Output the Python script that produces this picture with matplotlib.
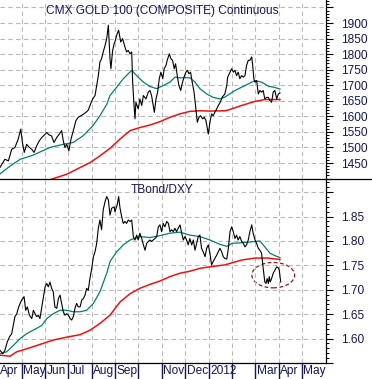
import numpy as np
import matplotlib
matplotlib.use("Agg")
import matplotlib.pyplot as plt
import matplotlib.transforms as mtransforms
from matplotlib.patches import Ellipse
from matplotlib.lines import Line2D
from matplotlib.ticker import MultipleLocator

plt.rcParams['font.family'] = ['Liberation Sans', 'DejaVu Sans']

# time axis: months since 1 Apr 2011
month_pos = list(range(14))
month_labels = ['Apr', 'May', 'Jun', 'Jul', 'Aug', 'Sep', '', 'Nov', 'Dec',
                '2012', '', 'Mar', 'Apr', 'May']

# CMX gold, daily close (sampled)
gold_t = [0.07, 0.28, 0.43, 0.57, 0.71, 0.79, 0.85, 0.96, 1.03, 1.11, 1.21, 1.33,
          1.43, 1.53, 1.64, 1.75, 1.86, 1.97, 2.07, 2.18, 2.28, 2.38, 2.50, 2.61,
          2.71, 2.78, 2.85, 2.93, 3.02, 3.11, 3.21, 3.32, 3.42, 3.54, 3.64, 3.75,
          3.85, 3.95, 4.04, 4.14, 4.21, 4.28, 4.35, 4.42, 4.49, 4.57, 4.64, 4.71,
          4.78, 4.82, 4.89, 4.96, 4.99, 5.09, 5.15, 5.24, 5.32, 5.42, 5.49, 5.56,
          5.64, 5.71, 5.75, 5.81, 5.85, 5.89, 5.99, 6.06, 6.14, 6.21, 6.32, 6.42,
          6.49, 6.56, 6.63, 6.68, 6.75, 6.82, 6.89, 6.96, 7.04, 7.10, 7.18, 7.23,
          7.32, 7.39, 7.46, 7.53, 7.59, 7.66, 7.73, 7.81, 7.87, 7.95, 8.03, 8.09,
          8.16, 8.23, 8.30, 8.38, 8.45, 8.52, 8.59, 8.66, 8.75, 8.82, 8.89, 8.95,
          8.99, 9.06, 9.13, 9.20, 9.27, 9.35, 9.42, 9.50, 9.59, 9.70, 9.78, 9.82,
          9.89, 9.99, 10.06, 10.13, 10.20, 10.27, 10.34, 10.42, 10.49, 10.56, 10.63,
          10.70, 10.77, 10.85, 10.89, 10.94, 10.99, 11.06, 11.13, 11.20, 11.27,
          11.34, 11.41, 11.49, 11.56, 11.63, 11.70, 11.77, 11.84, 11.92, 11.99, 12.06]
gold = [1436, 1462, 1457, 1494, 1500, 1516, 1527, 1559, 1516, 1484, 1510, 1500,
        1494, 1484, 1505, 1521, 1532, 1540, 1548, 1540, 1537, 1516, 1532, 1543,
        1554, 1521, 1500, 1510, 1489, 1527, 1554, 1586, 1597, 1602, 1607, 1613,
        1620, 1640, 1656, 1667, 1699, 1731, 1775, 1785, 1807, 1828, 1850, 1893,
        1785, 1753, 1810, 1834, 1839, 1866, 1877, 1839, 1850, 1823, 1807, 1812,
        1801, 1807, 1710, 1635, 1592, 1645, 1624, 1656, 1635, 1667, 1656, 1678,
        1683, 1667, 1635, 1613, 1656, 1678, 1721, 1742, 1721, 1753, 1764, 1780,
        1801, 1785, 1780, 1753, 1769, 1731, 1699, 1683, 1705, 1726, 1742, 1748,
        1737, 1742, 1710, 1678, 1629, 1581, 1597, 1602, 1592, 1597, 1586, 1559,
        1543, 1581, 1608, 1602, 1613, 1624, 1635, 1645, 1662, 1672, 1699, 1726,
        1737, 1753, 1742, 1748, 1731, 1742, 1721, 1731, 1726, 1731, 1764,
        1780, 1780, 1791, 1764, 1721, 1710, 1715, 1672, 1683, 1678,
        1683, 1656, 1661, 1661, 1651, 1645, 1678, 1683, 1656, 1672, 1675]

gold_ma50_t = [0.07, 0.50, 0.93, 1.48, 2.21, 2.77, 3.20, 3.62, 4.05, 4.35, 4.65,
               4.78, 5.07, 5.35, 5.71, 5.92, 6.21, 6.49, 6.78, 7.06, 7.35, 7.56,
               7.78, 8.20, 8.42, 8.63, 8.92, 9.20, 9.49, 9.70, 10.13, 10.56, 10.99,
               11.27, 11.56, 11.77, 12.06]
gold_ma50 = [1415, 1440, 1462, 1475, 1500, 1510, 1516, 1537, 1570, 1602, 1640,
             1667, 1694, 1721, 1748, 1731, 1710, 1696, 1689, 1699, 1710, 1726,
             1724, 1724, 1710, 1689, 1672, 1661, 1656, 1662, 1683, 1699, 1715,
             1710, 1697, 1694, 1688]

gold_ma200_t = [2.20, 2.93, 3.49, 3.92, 4.35, 4.78, 5.21, 5.64, 6.06, 6.49, 6.92,
                7.35, 7.78, 8.20, 8.63, 9.06, 9.70, 9.83, 10.42, 10.99, 11.41, 12.06]
gold_ma200 = [1396, 1414, 1435, 1451, 1473, 1497, 1527, 1554, 1564, 1572, 1583,
              1597, 1608, 1616, 1618, 1617, 1618, 1620, 1635, 1648, 1654, 1654]

# TBond / DXY ratio
ratio_t = [0.07, 0.19, 0.28, 0.38, 0.47, 0.57, 0.64, 0.71, 0.79, 0.85, 0.93, 1.00,
           1.10, 1.17, 1.24, 1.33, 1.43, 1.50, 1.57, 1.64, 1.71, 1.78, 1.86, 1.92,
           2.00, 2.07, 2.14, 2.21, 2.28, 2.35, 2.42, 2.50, 2.57, 2.64, 2.71, 2.78,
           2.85, 2.93, 3.00, 3.07, 3.14, 3.21, 3.28, 3.35, 3.42, 3.50, 3.57, 3.64,
           3.71, 3.78, 3.85, 3.92, 4.00, 4.07, 4.14, 4.21, 4.28, 4.35, 4.42, 4.49,
           4.57, 4.64, 4.71, 4.78, 4.85, 4.96, 4.99, 5.09, 5.15, 5.21, 5.28, 5.35,
           5.42, 5.49, 5.56, 5.64, 5.71, 5.78, 5.85, 5.92, 5.99, 6.06, 6.14, 6.21,
           6.28, 6.35, 6.42, 6.49, 6.56, 6.63, 6.71, 6.78, 6.85, 6.92, 6.99, 7.06,
           7.13, 7.21, 7.28, 7.35, 7.42, 7.49, 7.56, 7.63, 7.70, 7.78, 7.85, 7.92,
           7.99, 8.06, 8.13, 8.20, 8.28, 8.35, 8.42, 8.49, 8.56, 8.63, 8.70, 8.77,
           8.85, 8.92, 8.99, 9.06, 9.13, 9.20, 9.27, 9.35, 9.42, 9.49, 9.56, 9.63,
           9.70, 9.78, 9.85, 9.92, 9.99, 10.06, 10.13, 10.20, 10.27, 10.34, 10.42,
           10.49, 10.56, 10.63, 10.70, 10.77, 10.85, 10.91, 10.99, 11.06, 11.13,
           11.20, 11.27, 11.34, 11.41, 11.46, 11.51, 11.56, 11.60, 11.64, 11.70,
           11.77, 11.84, 11.92, 11.99, 12.03, 12.09]
ratio = [1.576, 1.569, 1.576, 1.593, 1.603, 1.610, 1.627, 1.645, 1.651, 1.662, 1.672, 1.679,
         1.686, 1.658, 1.665, 1.648, 1.641, 1.658, 1.651, 1.645, 1.648, 1.641, 1.665, 1.682,
         1.706, 1.713, 1.706, 1.716, 1.703, 1.696, 1.665, 1.662, 1.682, 1.689, 1.672, 1.655,
         1.648, 1.651, 1.648, 1.641, 1.638, 1.645, 1.662, 1.672, 1.665, 1.665, 1.679, 1.682,
         1.689, 1.703, 1.699, 1.723, 1.744, 1.768, 1.778, 1.795, 1.826, 1.843, 1.823, 1.864,
         1.881, 1.891, 1.884, 1.853, 1.867, 1.870, 1.860, 1.874, 1.891, 1.867, 1.850, 1.836,
         1.840, 1.836, 1.843, 1.840, 1.843, 1.809, 1.802, 1.812, 1.802, 1.816, 1.805, 1.792,
         1.781, 1.795, 1.799, 1.802, 1.799, 1.802, 1.805, 1.809, 1.829, 1.833, 1.819, 1.836,
         1.829, 1.840, 1.836, 1.819, 1.823, 1.819, 1.826, 1.819, 1.826, 1.833, 1.816, 1.802,
         1.809, 1.802, 1.792, 1.805, 1.792, 1.802, 1.781, 1.795, 1.809, 1.812, 1.785, 1.778,
         1.768, 1.785, 1.792, 1.775, 1.751, 1.758, 1.764, 1.771, 1.778, 1.785, 1.778, 1.768,
         1.764, 1.763, 1.785, 1.819, 1.829, 1.819, 1.805, 1.812, 1.802, 1.809, 1.799,
         1.795, 1.788, 1.792, 1.802, 1.819, 1.833, 1.816, 1.802, 1.795, 1.785,
         1.781, 1.775, 1.744, 1.716, 1.713, 1.723, 1.713, 1.727, 1.716, 1.723,
         1.734, 1.740, 1.747, 1.745, 1.740, 1.716]

ratio_ma50_t = [0.07, 0.36, 0.64, 0.93, 1.21, 1.64, 1.86, 2.07, 2.35, 2.64, 2.93,
                3.21, 3.50, 3.78, 4.07, 4.35, 4.64, 4.78, 5.07, 5.35, 5.64, 6.06,
                6.49, 6.92, 7.35, 7.78, 8.20, 8.63, 9.06, 9.49, 9.79, 10.00, 10.56,
                10.99, 11.20, 11.41, 11.63, 11.84, 12.06]
ratio_ma50 = [1.569, 1.573, 1.586, 1.600, 1.610, 1.621, 1.627, 1.641, 1.651, 1.658, 1.658,
              1.655, 1.655, 1.658, 1.672, 1.696, 1.734, 1.758, 1.778, 1.792, 1.802, 1.809,
              1.807, 1.811, 1.816, 1.818, 1.812, 1.809, 1.802, 1.793, 1.789, 1.795, 1.797,
              1.799, 1.800, 1.788, 1.775, 1.770, 1.766]

ratio_ma200_t = [0.07, 0.50, 0.79, 1.21, 1.78, 2.35, 2.93, 3.50, 3.92, 4.35, 4.78,
                 5.21, 5.64, 6.06, 6.49, 6.92, 7.35, 7.78, 8.20, 8.63, 9.06, 9.70,
                 10.42, 10.99, 11.54, 12.06]
ratio_ma200 = [1.566, 1.564, 1.573, 1.579, 1.588, 1.597, 1.603, 1.608, 1.617, 1.631, 1.648,
               1.675, 1.692, 1.703, 1.711, 1.718, 1.727, 1.734, 1.738, 1.744, 1.747, 1.751,
               1.761, 1.765, 1.765, 1.762]

gold_ticks = list(range(1400, 1951, 50))
ratio_ticks = [1.55, 1.60, 1.65, 1.70, 1.75, 1.80, 1.85, 1.90]

navy = '#15155a'
teal = '#00806e'
red = '#f01010'

fig = plt.figure(figsize=(3.72, 3.79), dpi=100)
ax1 = fig.add_axes([0, 200 / 379, 326 / 372, 179 / 379])
ax2 = fig.add_axes([0, 16 / 379, 326 / 372, 184 / 379])

ax1.plot(gold_ma200_t, gold_ma200, color=red, lw=1.1)
ax1.plot(gold_ma50_t, gold_ma50, color=teal, lw=0.9)
ax1.plot(gold_t, gold, color='black', lw=0.8)
ax1.set_ylim(1398.6, 1974)

ax2.plot(ratio_ma200_t, ratio_ma200, color=red, lw=1.1)
ax2.plot(ratio_ma50_t, ratio_ma50, color=teal, lw=0.9)
ax2.plot(ratio_t, ratio, color='black', lw=0.8)
ax2.set_ylim(1.5525, 1.927)
ax2.add_patch(Ellipse((11.77, 1.730), 1.83, 0.052, fill=False,
                      edgecolor='#8b1a1a', lw=0.9, ls=(0, (3, 2))))

for ax in (ax1, ax2):
    ax.set_xlim(0.07, 14.03)
    ax.set_xticks(month_pos[1:])
    ax.grid(True, which='major', color='#b8b8b8', linestyle=(0, (4, 3)), lw=0.8)
    for s in ('left', 'top'):
        ax.spines[s].set_visible(False)
    ax.spines['right'].set_linewidth(0.9)
    ax.yaxis.tick_right()
    ax.tick_params(axis='y', which='major', length=5, width=0.8, pad=6,
                   labelsize=8.6, labelcolor=navy)
    ax.tick_params(axis='y', which='minor', length=2.5, width=0.7)

ax1.spines['bottom'].set_visible(False)
ax1.tick_params(axis='x', length=0, labelbottom=False)
ax1.set_yticks(gold_ticks)
ax1.set_yticklabels([str(v) if 1450 <= v <= 1900 else '' for v in gold_ticks])
ax1.yaxis.set_minor_locator(MultipleLocator(10))

ax2.set_yticks(ratio_ticks)
ax2.set_yticklabels(['%.2f' % v if 1.6 <= v <= 1.85 + 1e-9 else '' for v in ratio_ticks])
ax2.yaxis.set_minor_locator(MultipleLocator(0.01))
ax2.spines['bottom'].set_linewidth(0.9)
ax2.tick_params(axis='x', length=11.5, width=1.0, color=navy, labelbottom=False)

trans = mtransforms.blended_transform_factory(ax2.transData, ax2.transAxes)
for m, lab in zip(month_pos, month_labels):
    ax2.text(m + 0.06, -0.045, lab, transform=trans, ha='left', va='center',
             fontsize=8.6, color=navy)

ax1.text(0.497, 0.94, 'CMX GOLD 100 (COMPOSITE) Continuous', transform=ax1.transAxes,
         ha='center', va='center', fontsize=8.6, color=navy)
ax2.text(0.497, 0.94, 'TBond/DXY', transform=ax2.transAxes,
         ha='center', va='center', fontsize=8.6, color=navy)

# separator between the two panels, across the full width
fig.add_artist(Line2D([0, 1], [200 / 379] * 2, color='black', lw=0.9))

fig.savefig('out.png', dpi=100)
